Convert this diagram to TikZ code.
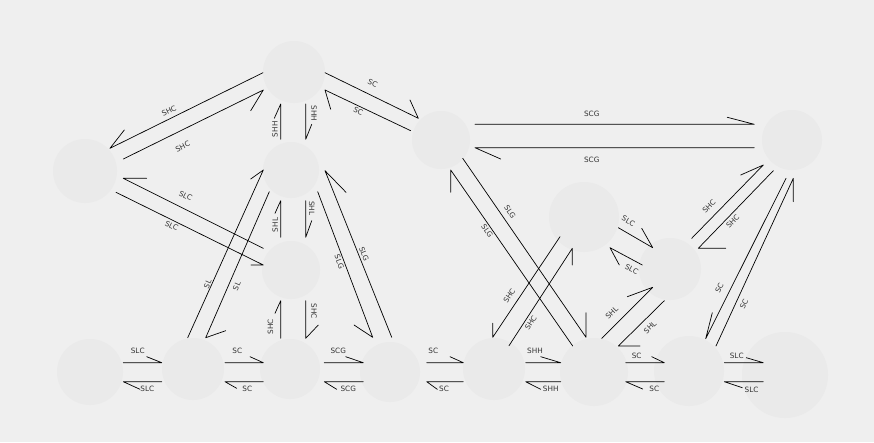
\documentclass[tikz,border=0pt]{standalone}
\usepackage{fontspec}
\setmainfont{DejaVu Sans}
\definecolor{bg}{HTML}{EFEFEF}
\definecolor{nd}{HTML}{EAEAEA}
\definecolor{tx}{HTML}{333333}
\begin{document}
\begin{tikzpicture}[x=1pt,y=-1pt,
  st/.style={circle, fill=nd, draw=none, inner sep=0pt, minimum size=#1},
  con/.style={draw=black, line width=0.7pt, line join=round, line cap=round},
  lab/.style={font=\fontsize{7.3}{8}\selectfont, text=tx, inner sep=0pt, sloped, anchor=center}]
\fill[bg] (0,0) rectangle (874,442);
\useasboundingbox (0,0) rectangle (874,442);
% nodes
\node[st=62pt] (A) at (294,72) {};
\node[st=64pt] (B) at (85,171) {};
\node[st=56pt] (C) at (291,170) {};
\node[st=58pt] (D) at (291,270) {};
\node[st=66pt] (E1) at (90,372) {};
\node[st=62pt] (E2) at (193,369) {};
\node[st=60pt] (E3) at (290,369) {};
\node[st=60pt] (E4) at (390,372) {};
\node[st=62pt] (E5) at (494,369) {};
\node[st=68pt] (E6) at (594,372) {};
\node[st=70pt] (E7) at (689,371) {};
\node[st=86pt] (E8) at (785,375) {};
\node[st=58pt] (F) at (441,140) {};
\node[st=60pt] (G) at (792,140) {};
\node[st=70pt] (H) at (584,217) {};
\node[st=62pt] (I) at (670,269) {};
% A - B
\draw[con] ([shift={(-31,0.7)}]A.center) -- node[lab,pos=.593,yshift=7.3pt]{SHC} ([shift={(25,-22.7)}]B.center) -- ++(14.3,-18.3);
\draw[con] ([shift={(38.3,-12)}]B.center) -- node[lab,pos=.376,yshift=-15.2pt]{SHC} ([shift={(-30.7,18)}]A.center) -- ++(-12.6,20.7);
% A - C
\draw[con] ([shift={(-10.3,-30.7)}]C.center) -- node[lab,pos=.283,yshift=5.7pt]{SHH} ([shift={(-13.3,32)}]A.center) -- ++(-6.4,14.3);
\draw[con] ([shift={(11.7,32)}]A.center) -- node[lab,pos=.263,yshift=8.3pt]{SHH} ([shift={(14.7,-30.7)}]C.center) -- ++(6,-15);
% A - F
\draw[con] ([shift={(31,0.7)}]A.center) -- node[lab,pos=.457,yshift=11.4pt]{SC} ([shift={(-22.7,-21.7)}]F.center) -- ++(-8.3,-18.3);
\draw[con] ([shift={(-30.3,-9.3)}]F.center) -- node[lab,pos=.585,yshift=-5.3pt]{SC} ([shift={(31,18)}]A.center) -- ++(5.7,19.3);
% B - D
\draw[con] ([shift={(-27.7,-21.7)}]D.center) -- node[lab,pos=.594,yshift=12.3pt]{SLC} ([shift={(38.3,7.3)}]B.center) -- ++(23.4,0);
\draw[con] ([shift={(31,21.3)}]B.center) -- node[lab,pos=.394,yshift=-5.3pt]{SLC} ([shift={(-27.7,-5)}]D.center) -- ++(-12.3,0);
% C - D
\draw[con] ([shift={(-10.3,-32.7)}]D.center) -- node[lab,pos=.336,yshift=5.4pt]{SHL} ([shift={(-10.3,30.7)}]C.center) -- ++(-5.7,12.6);
\draw[con] ([shift={(14.7,30.7)}]C.center) -- node[lab,pos=.208,yshift=6pt]{SHL} ([shift={(14.7,-32.7)}]D.center) -- ++(6,-16.6);
% C - E2
\draw[con] ([shift={(-5.3,-31.3)}]E2.center) -- node[lab,pos=.311,yshift=3.9pt]{SL} ([shift={(-27.7,0)}]C.center) -- ++(-12.6,9);
\draw[con] ([shift={(-21.7,21.7)}]C.center) -- node[lab,pos=.625,yshift=-7.8pt]{SL} ([shift={(12.7,-31.3)}]E2.center) -- ++(20,-7);
% C - E4
\draw[con] ([shift={(26.7,21.7)}]C.center) -- node[lab,pos=.47,yshift=-4.5pt]{SLG} ([shift={(-17.3,-34.7)}]E4.center) -- ++(-18.7,-12.3);
\draw[con] ([shift={(1.7,-34.7)}]E4.center) -- node[lab,pos=.488,yshift=5.2pt]{SLG} ([shift={(34,0.7)}]C.center) -- ++(21,21.6);
% D - E3
\draw[con] ([shift={(-9.3,-30.7)}]E3.center) -- node[lab,pos=.309,yshift=10.2pt]{SHC} ([shift={(-10.3,30.7)}]D.center) -- ++(-5.7,12.6);
\draw[con] ([shift={(14.7,30.7)}]D.center) -- node[lab,pos=.274,yshift=8.3pt]{SHC} ([shift={(15.7,-30.7)}]E3.center) -- ++(12.6,-13.3);
% bottom row
\draw[con] ([shift={(33.3,-9.3)}]E1.center) -- node[lab,pos=.375,yshift=12pt]{SLC} ([shift={(-31.3,-6.3)}]E2.center) -- ++(-15,-6);
\draw[con] ([shift={(-31.3,12.7)}]E2.center) -- node[lab,pos=.375,yshift=-7.3pt]{SLC} ([shift={(33.3,9.7)}]E1.center) -- ++(16.7,7.6);
\draw[con] ([shift={(32,-6.3)}]E2.center) -- node[lab,pos=.321,yshift=12pt]{SC} ([shift={(-26.7,-6.3)}]E3.center) -- ++(-13.3,-6);
\draw[con] ([shift={(-26.7,12.7)}]E3.center) -- node[lab,pos=.418,yshift=-7.3pt]{SC} ([shift={(32,12.7)}]E2.center) -- ++(11.7,6.6);
\draw[con] ([shift={(34.3,-6.3)}]E3.center) -- node[lab,pos=.359,yshift=12pt]{SCG} ([shift={(-26.7,-9.3)}]E4.center) -- ++(-17.6,-6);
\draw[con] ([shift={(-26.7,9.7)}]E4.center) -- node[lab,pos=.385,yshift=-7.3pt]{SCG} ([shift={(34.3,12.7)}]E3.center) -- ++(12.4,7.6);
\draw[con] ([shift={(36.7,-9.3)}]E4.center) -- node[lab,pos=.18,yshift=12pt]{SC} ([shift={(-30.7,-6.3)}]E5.center) -- ++(-13.3,-6);
\draw[con] ([shift={(-30.7,12.7)}]E5.center) -- node[lab,pos=.527,yshift=-7.3pt]{SC} ([shift={(36.7,9.7)}]E4.center) -- ++(10.6,7.6);
\draw[con] ([shift={(31.7,-6.3)}]E5.center) -- node[lab,pos=.266,yshift=12pt]{SHH} ([shift={(-33.3,-9.3)}]E6.center) -- ++(-20,-6);
\draw[con] ([shift={(-33.3,9.7)}]E6.center) -- node[lab,pos=.286,yshift=-7.3pt]{SHH} ([shift={(31.7,12.7)}]E5.center) -- ++(15,7.6);
\draw[con] ([shift={(31.7,-9.3)}]E6.center) -- node[lab,pos=.285,yshift=7pt]{SC} ([shift={(-24.7,-8.3)}]E7.center) -- ++(-12.6,-6);
\draw[con] ([shift={(-24.7,10.7)}]E7.center) -- node[lab,pos=.259,yshift=-7pt]{SC} ([shift={(31.7,9.7)}]E6.center) -- ++(17,7.3);
\draw[con] ([shift={(35.3,-8.3)}]E7.center) -- node[lab,pos=.318,yshift=7pt]{SLC} ([shift={(-21.7,-12.3)}]E8.center) -- ++(-17,-5);
\draw[con] ([shift={(-21.7,6.7)}]E8.center) -- node[lab,pos=.3,yshift=-8.5pt]{SLC} ([shift={(35.3,10.7)}]E7.center) -- ++(18,6);
% F - G
\draw[con] ([shift={(34,-15.7)}]F.center) -- node[lab,pos=.418,yshift=10pt]{SCG} ([shift={(-37.7,-15.7)}]G.center) -- ++(-27,-7);
\draw[con] ([shift={(-37.7,7.7)}]G.center) -- node[lab,pos=.582,yshift=-11.8pt]{SCG} ([shift={(34,7.7)}]F.center) -- ++(25.7,11.3);
% F - E6
\draw[con] ([shift={(-21.3,-26)}]E6.center) -- node[lab,pos=.67,yshift=-4.5pt]{SLG} ([shift={(9.7,30)}]F.center) -- ++(0,22.3);
\draw[con] ([shift={(21.7,18.3)}]F.center) -- node[lab,pos=.326,yshift=8.7pt]{SLG} ([shift={(-8,-34.7)}]E6.center) -- ++(0,-24.6);
% H - E5
\draw[con] ([shift={(-24,19.7)}]H.center) -- node[lab,pos=.64,yshift=9.2pt]{SHC} ([shift={(-1.3,-31.7)}]E5.center) -- ++(0,-14);
\draw[con] ([shift={(15,-23.3)}]E5.center) -- node[lab,pos=.268,yshift=-5.7pt]{SHC} ([shift={(-11.7,31.3)}]H.center) -- ++(0,16.7);
% H - I
\draw[con] ([shift={(34.3,10.7)}]H.center) -- node[lab,pos=.133,yshift=10.8pt]{SLC} ([shift={(-17.3,-21.3)}]I.center) -- ++(-11,-19.4);
\draw[con] ([shift={(-27.7,-4)}]I.center) -- node[lab,pos=.204,yshift=-8.5pt]{SLC} ([shift={(26,30.7)}]H.center) -- ++(9.3,17.3);
% I - E6
\draw[con] ([shift={(7.7,-33.7)}]E6.center) -- node[lab,pos=.349,yshift=11pt]{SHL} ([shift={(-17.3,18.3)}]I.center) -- ++(-25.4,9.4);
\draw[con] ([shift={(-5.7,31.7)}]I.center) -- node[lab,pos=.447,yshift=-8.9pt]{SHL} ([shift={(24.3,-26)}]E6.center) -- ++(21.7,0);
% I - G
\draw[con] ([shift={(21.7,-30.7)}]I.center) -- node[lab,pos=.339,yshift=9.7pt]{SHC} ([shift={(-28.7,25)}]G.center) -- ++(-22.6,10);
\draw[con] ([shift={(-18.7,30.7)}]G.center) -- node[lab,pos=.597,yshift=-5.8pt]{SHC} ([shift={(28.3,-20.7)}]I.center) -- ++(27.4,0);
% G - E7
\draw[con] ([shift={(-6,38.3)}]G.center) -- node[lab,pos=.712,yshift=10.6pt]{SC} ([shift={(16.7,-32.3)}]E7.center) -- ++(6.6,-26);
\draw[con] ([shift={(27,-25)}]E7.center) -- node[lab,pos=.269,yshift=-7.9pt]{SC} ([shift={(1.3,38.3)}]G.center) -- ++(0,23.4);
\end{tikzpicture}
\end{document}
